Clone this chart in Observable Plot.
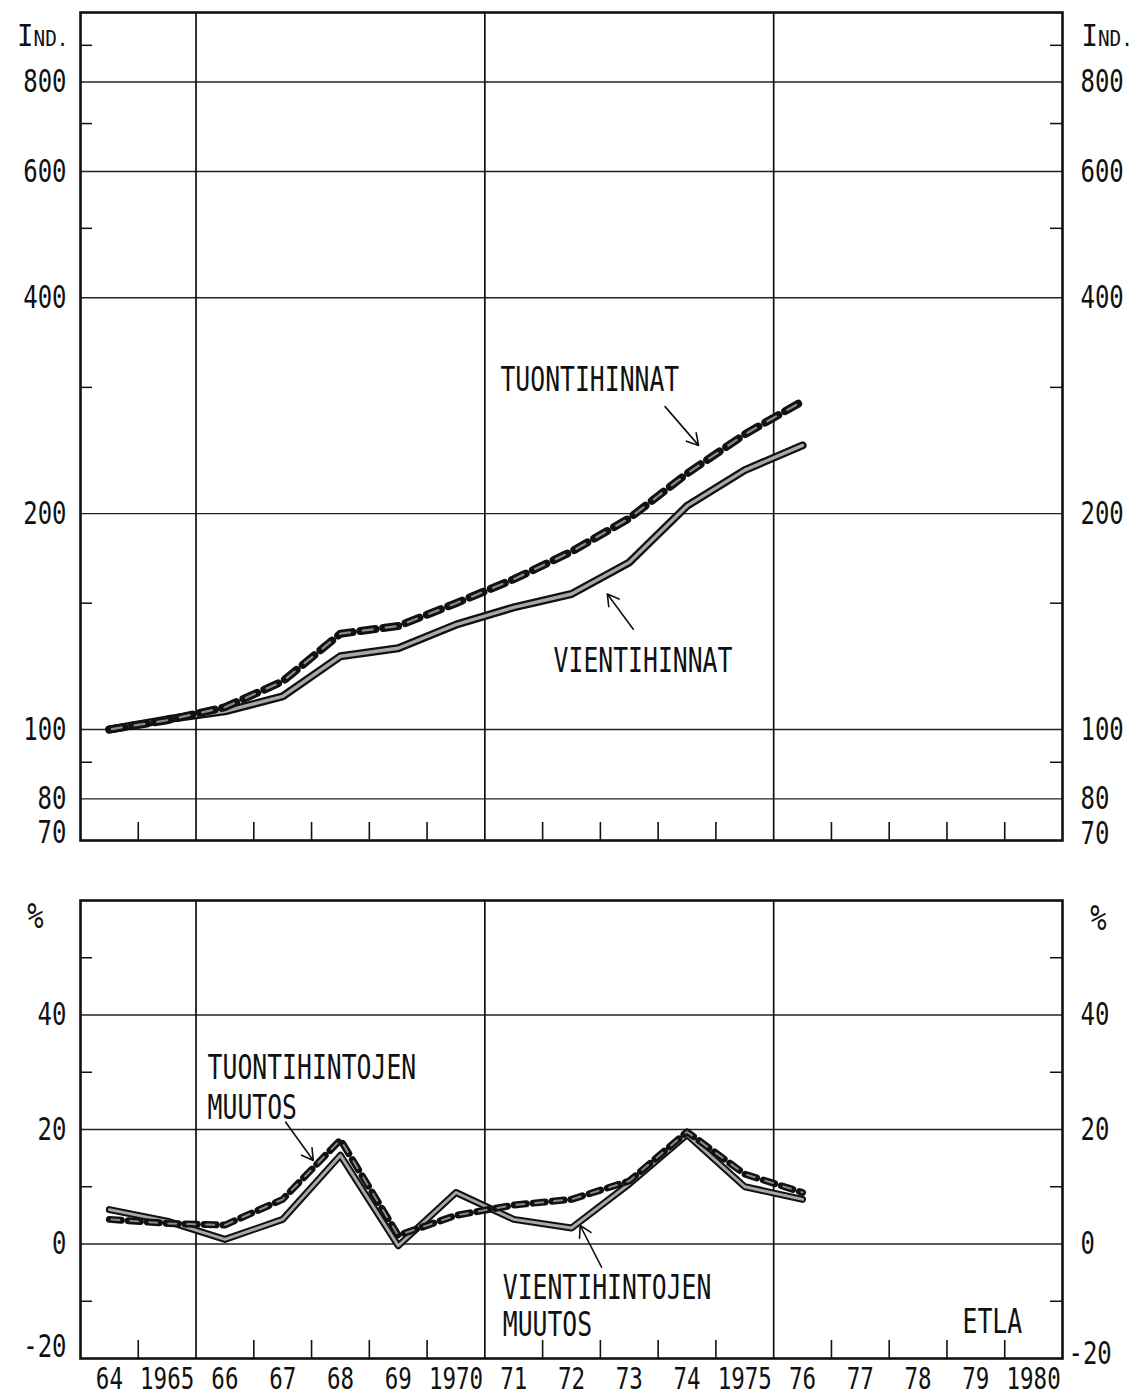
<!DOCTYPE html>
<html>
<head>
<meta charset="utf-8">
<script src="https://cdn.jsdelivr.net/npm/d3@7"></script>
<script src="https://cdn.jsdelivr.net/npm/@observablehq/plot@0.6"></script>
<style>
  html, body { margin: 0; padding: 0; background: #fff; }
  #wrap { position: relative; width: 1137px; height: 1398px; background: #fff; }
  #top, #bottom { position: absolute; left: 0; }
  #top { top: 0; }
  #bottom { top: 880px; }
</style>
</head>
<body>
<div id="wrap"><div id="top"></div><div id="bottom"></div></div>
<script>
// ---- data ----
const years = [1964, 1965, 1966, 1967, 1968, 1969, 1970, 1971, 1972, 1973, 1974, 1975, 1976];
const importIndex = [100, 103, 107.4, 116.7, 136, 139.4, 150, 162, 177, 197, 227.5, 258, 287];
const exportIndex = [100, 103.3, 106, 111.2, 126.5, 129.8, 140, 148, 154.5, 171, 205, 230, 249];
const importChange = [4.3, 3.6, 3.3, 7.8, 18.2, 1.5, 5.0, 6.8, 7.8, 11.0, 19.6, 12.2, 9.0];
const exportChange = [6.0, 4.0, 0.8, 4.3, 15.5, -0.3, 9.0, 4.3, 2.8, 10.5, 19.1, 10.0, 7.8];

const labelYears = d3.range(1964, 1981);
const yearLabels = ["64","1965","66","67","68","69","1970","71","72","73","74","1975","76","77","78","79","1980"];
const verticalGrid = [1966, 1971, 1976];
const smallTickYears = [1965, 1967, 1968, 1969, 1970, 1972, 1973, 1974, 1975, 1977, 1978, 1979, 1980];

const topGrid = [80, 100, 200, 400, 600, 800];
const topLabels = [80, 100, 200, 400, 600, 800];
const topBottomLabel = [70];
const topMinor = [90, 150, 300, 500, 700, 900];
const bottomGrid = [0, 20, 40];
const bottomLabels = [0, 20, 40];
const bottomBottomLabel = [-20];
const bottomMinor = [-10, 10, 30, 50];

const topNotes = [
  {x: 1971.27, y: 307, text: "TUONTIHINNAT"},
  {x: 1972.19, y: 124.5, text: "VIENTIHINNAT"}
];
const topArrows = [
  {x1: 1974.12, y1: 282, x2: 1974.7, y2: 249},
  {x1: 1973.57, y1: 138, x2: 1973.12, y2: 154.5}
];
const bottomNotes = [
  {x: 1966.2, y: 30.7, text: "TUONTIHINTOJEN"},
  {x: 1966.2, y: 23.7, text: "MUUTOS"},
  {x: 1971.31, y: -7.8, text: "VIENTIHINTOJEN"},
  {x: 1971.31, y: -14.2, text: "MUUTOS"},
  {x: 1979.27, y: -13.7, text: "ETLA"}
];
const bottomArrows = [
  {x1: 1967.55, y1: 21.3, x2: 1968.03, y2: 14.6},
  {x1: 1973.02, y1: -4.05, x2: 1972.65, y2: 3.23}
];

const topData = years.map((y, i) => ({x: y + 0.5, imp: importIndex[i], exp: exportIndex[i]}));
const botData = years.map((y, i) => ({x: y + 0.5, imp: importChange[i], exp: exportChange[i]}));

const W = 1137, ML = 80, MR = 75;
const plotW = W - ML - MR;

function lineLayers(data, outerW, dash, inner) {
  return [
    Plot.line(data, {x: "x", y: "exp", stroke: "#111", strokeWidth: outerW}),
    Plot.line(data, {x: "x", y: "exp", stroke: "#a8a8a8", strokeWidth: outerW * 0.42}),
    Plot.line(data, {x: "x", y: "imp", stroke: "#111", strokeWidth: outerW, strokeDasharray: dash}),
    Plot.line(data, {x: "x", y: "imp", stroke: "#8a8a8a", strokeWidth: outerW * 0.28, strokeDasharray: inner.dash, strokeDashoffset: inner.offset})
  ];
}

function common(height, mt, mb, yScale, grid, labels, bottomLabel, minor, bl, extras) {
  const innerH = height - mt - mb;
  return Plot.plot({
    width: W, height,
    marginLeft: ML, marginRight: MR, marginTop: mt, marginBottom: mb,
    style: {fontFamily: "'DejaVu Sans Mono', monospace", fontSize: "32px", background: "#fff", color: "#111"},
    x: {type: "linear", domain: [1964, 1981], axis: null},
    y: {...yScale, axis: null},
    marks: [
      Plot.ruleY(grid, {y: d => d, stroke: "#222", strokeWidth: 1.4}),
      Plot.ruleX(verticalGrid, {x: d => d, stroke: "#111", strokeWidth: 1.7}),
      Plot.ruleX(smallTickYears, {x: d => d, insetTop: innerH - 18, stroke: "#111", strokeWidth: 1.6}),
      Plot.ruleY(minor, {y: d => d, insetRight: plotW - 12, stroke: "#111", strokeWidth: 1.5}),
      Plot.ruleY(minor, {y: d => d, insetLeft: plotW - 12, stroke: "#111", strokeWidth: 1.5}),
      ...extras,
      Plot.frame({stroke: "#111", strokeWidth: 2.6}),
      Plot.text(labels, {y: d => d, text: d => String(d), frameAnchor: "left", textAnchor: "end", dx: -14}),
      Plot.text(labels, {y: d => d, text: d => String(d), frameAnchor: "right", textAnchor: "start", dx: 18}),
      Plot.text(bottomLabel, {y: d => d, text: d => String(d), frameAnchor: "left", textAnchor: "end", dx: -14, dy: bl.leftDy}),
      Plot.text(bottomLabel, {y: d => d, text: d => String(d), frameAnchor: "right", textAnchor: "start", dx: bl.rightDx, dy: bl.rightDy})
    ]
  });
}

const topChart = common(880, 12, 40,
  {type: "log", domain: [70, 1000]},
  topGrid, topLabels, topBottomLabel, topMinor,
  {leftDy: -8, rightDx: 18, rightDy: -7},
  [
    ...lineLayers(topData, 8, "15,8", {dash: "10,13", offset: -2.5}),
    Plot.arrow(topArrows, {x1: "x1", y1: "y1", x2: "x2", y2: "y2", stroke: "#111", strokeWidth: 1.6, headLength: 12, bend: false}),
    Plot.text(topNotes, {x: "x", y: "y", text: "text", textAnchor: "start", fontSize: 33}),
    Plot.text(["IND."], {frameAnchor: "top-left", lineAnchor: "middle", textAnchor: "end", dx: -12, dy: 23}),
    Plot.text(["IND."], {frameAnchor: "top-right", lineAnchor: "middle", textAnchor: "start", dx: 19, dy: 23})
  ]);

const bottomChart = common(518, 20, 40,
  {type: "linear", domain: [-20, 60]},
  bottomGrid, bottomLabels, bottomBottomLabel, bottomMinor,
  {leftDy: -12, rightDx: 6, rightDy: -5},
  [
    ...lineLayers(botData, 7, "12,7", {dash: "8,11", offset: -2}),
    Plot.arrow(bottomArrows, {x1: "x1", y1: "y1", x2: "x2", y2: "y2", stroke: "#111", strokeWidth: 1.6, headLength: 12, bend: false}),
    Plot.text(bottomNotes, {x: "x", y: "y", text: "text", textAnchor: "start", fontSize: 33}),
    Plot.text(["%"], {frameAnchor: "top-left", lineAnchor: "middle", textAnchor: "middle", dx: -45, dy: 16, fontSize: 36}),
    Plot.text(["%"], {frameAnchor: "top-right", lineAnchor: "middle", textAnchor: "middle", dx: 36, dy: 18, fontSize: 36}),
    Plot.text(labelYears, {x: d => d + 0.5, text: (d, i) => yearLabels[i], frameAnchor: "bottom", lineAnchor: "middle", dy: 21, fontSize: 30})
  ]);

document.getElementById("top").appendChild(topChart);
document.getElementById("bottom").appendChild(bottomChart);

// "IND." drawn with a tall I and small capitals
const indTexts = [];
for (const t of topChart.querySelectorAll("text")) {
  if (t.textContent !== "IND.") continue;
  t.textContent = "";
  const a = document.createElementNS("http://www.w3.org/2000/svg", "tspan");
  a.textContent = "I"; a.setAttribute("style", "font-size:31px");
  const b = document.createElementNS("http://www.w3.org/2000/svg", "tspan");
  b.textContent = "ND."; b.setAttribute("style", "font-size:22px");
  t.appendChild(a); t.appendChild(b);
  indTexts.push(t);
}

// condense the lettering like the original plotter font
for (const svg of [topChart, bottomChart]) {
  for (const t of svg.querySelectorAll("text")) {
    const L = t.getComputedTextLength();
    const f = indTexts.includes(t) ? 0.88 : 0.75;
    if (L > 0) {
      t.setAttribute("textLength", (L * f).toFixed(1));
      t.setAttribute("lengthAdjust", "spacingAndGlyphs");
    }
  }
}
</script>
</body>
</html>
